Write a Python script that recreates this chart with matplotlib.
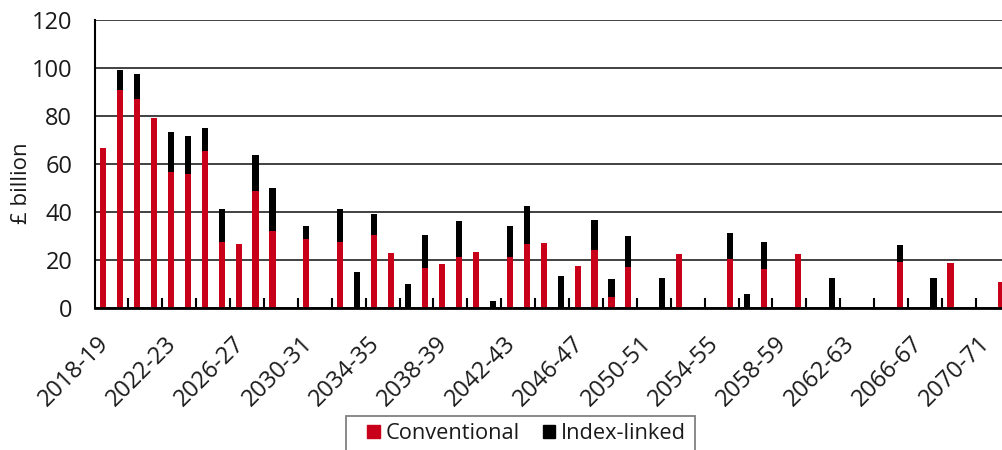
import numpy as np
import matplotlib
matplotlib.use('Agg')
import matplotlib.pyplot as plt
import matplotlib.transforms as mtransforms
from matplotlib.patches import Patch, Rectangle

# Financial years 2018-19 .. 2071-72
years = [f'{y}-{str(y + 1)[-2:]}' for y in range(2018, 2072)]

# Redemptions, £ billion
conventional = [66.8, 91.0, 87.2, 79.4, 56.9, 56.1, 65.6, 27.6, 26.8, 48.9,
                32.2, 0, 28.8, 0, 27.6, 0, 30.4, 23.1, 0, 16.9,
                18.5, 21.5, 23.5, 0, 21.4, 26.7, 27.1, 0, 17.8, 24.2,
                4.7, 17.4, 0, 0, 22.6, 0, 0, 20.4, 0, 16.5,
                0, 22.5, 0, 0, 0, 0, 0, 19.2, 0, 0,
                19.0, 0, 0, 11.1]
index_linked = [0, 8.2, 10.3, 0, 16.4, 15.7, 9.4, 13.6, 0, 15.0,
                17.8, 0, 5.3, 0, 13.6, 15.0, 8.8, 0, 10.1, 13.6,
                0, 15.0, 0, 3.0, 13.0, 16.1, 0, 13.5, 0, 12.5,
                7.6, 12.6, 0, 12.6, 0, 0, 0, 10.8, 5.8, 11.0,
                0, 0, 0, 12.6, 0, 0, 0, 7.2, 0, 12.8,
                0, 0, 0, 0]

red = '#C8001A'
text_color = '#1a1a1a'
plt.rcParams['font.family'] = ['Open Sans', 'DejaVu Sans']
plt.rcParams['font.size'] = 16
plt.rcParams['text.color'] = text_color

W, H = 1002, 450
fig = plt.figure(figsize=(W / 100, H / 100), dpi=100)
ax = fig.add_axes([94.5 / W, 141.7 / H, (W - 94.5) / W, 288 / H])

x = np.arange(len(years))
ax.bar(x, conventional, width=0.36, color=red, zorder=3)
ax.bar(x, index_linked, width=0.36, bottom=conventional, color='black', zorder=3)

ax.set_xlim(-0.5, 53.04)
ax.set_ylim(0, 120)
ax.set_yticks(range(0, 121, 20))
ax.grid(axis='y', color='#333333', linewidth=1.3, zorder=1)
ax.set_axisbelow(True)

for s in ['top', 'right']:
    ax.spines[s].set_visible(False)
ax.spines['left'].set_linewidth(1.5)
ax.spines['bottom'].set_linewidth(2)
ax.spines['bottom'].set_zorder(4)

# minor ticks at every second category boundary, labels every 4 years
ax.set_xticks(x[::4])
ax.set_xticklabels(years[::4], rotation=45, ha='right', rotation_mode='anchor',
                   color=text_color, fontsize=17)
ax.set_xticks(np.arange(1.5, 53, 2), minor=True)
ax.tick_params(axis='x', which='major', length=0, pad=17)
ax.tick_params(axis='x', which='minor', direction='in', length=7, width=1.5, color='black')
ax.tick_params(axis='y', length=0, pad=16, labelcolor=text_color, labelsize=17)

shift = mtransforms.ScaledTranslation(-6 / 100, 0, fig.dpi_scale_trans)
for lbl in ax.get_xticklabels():
    lbl.set_transform(lbl.get_transform() + shift)

ax.set_ylabel('£ billion', color=text_color)
ax.yaxis.set_label_coords(-0.069, 0.435)

# legend: frameless, with a box drawn round it (bottom edge runs off the image)
handles = [Patch(color=red, label='Conventional'), Patch(color='black', label='Index-linked')]
leg = fig.legend(handles=handles, loc='upper left', bbox_to_anchor=(367 / W, 1 - 423 / H),
                 ncol=2, frameon=False, fontsize=15.7,
                 handlelength=0.58, handleheight=0.58, handletextpad=0.27, columnspacing=1.05,
                 borderpad=0, borderaxespad=0)
fig.add_artist(Rectangle((345.7 / W, -0.05), (695 - 345.7) / W, 0.05 + 1 - 415.7 / H,
                         transform=fig.transFigure, fill=False, edgecolor='#808080',
                         linewidth=1.3))

fig.savefig('out.png', dpi=100)
